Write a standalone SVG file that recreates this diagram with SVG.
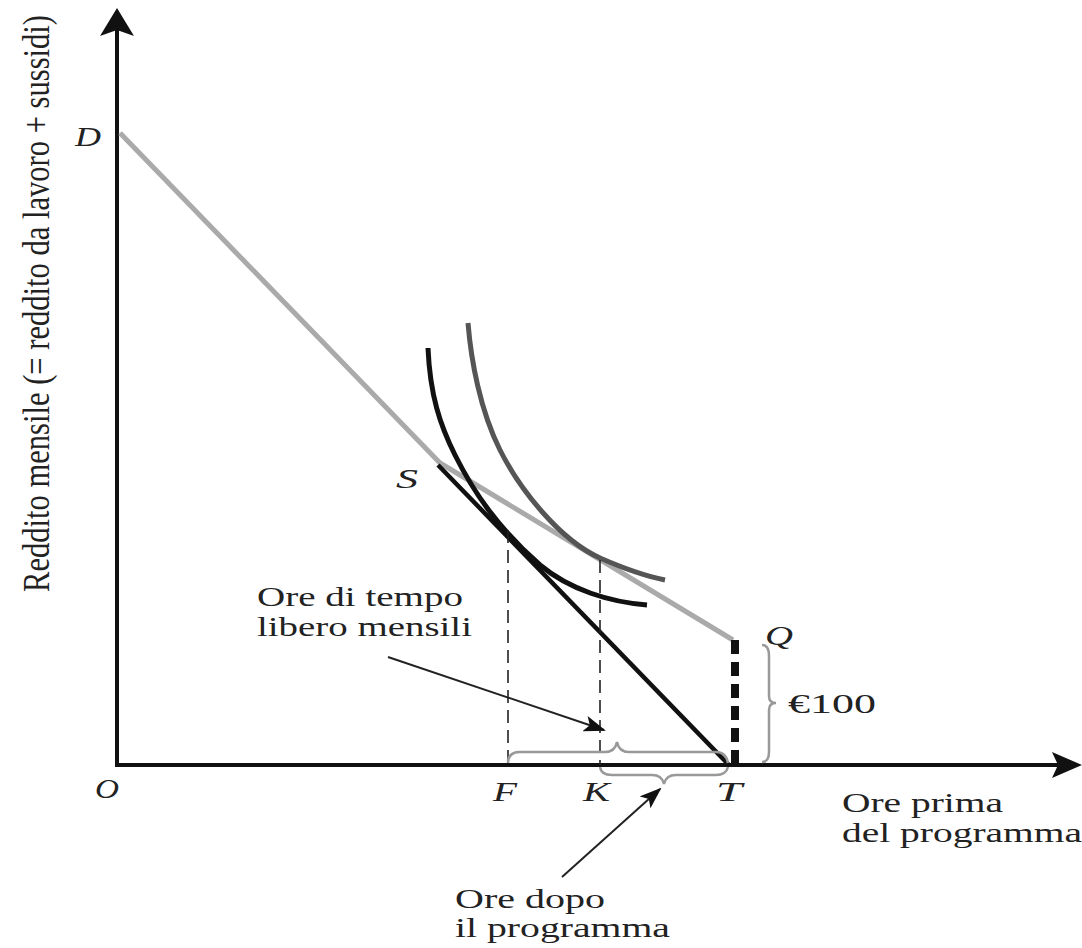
<svg xmlns="http://www.w3.org/2000/svg" width="1082" height="948" viewBox="0 0 1082 948">
<style>
.t{font-family:"Liberation Serif","Times New Roman",Times,Tinos,serif;font-size:28px;fill:#222}
.i{font-family:"Liberation Serif","Times New Roman",Times,Tinos,serif;font-size:28px;font-style:italic;fill:#222}
.ax{stroke:#111;stroke-width:4;fill:none}
.brace{stroke:#999;stroke-width:2.5;fill:none}
.dash{stroke:#222;stroke-width:1.6;stroke-dasharray:13 7;fill:none}
.ptr{stroke:#222;stroke-width:2;fill:none;marker-end:url(#ah)}
</style>
<defs>
<marker id="ah" markerWidth="22" markerHeight="16" refX="20" refY="8" orient="auto" markerUnits="userSpaceOnUse">
<path d="M0,0 L22,8 L0,16 L5,8 z" fill="#111"/>
</marker>
</defs>
<rect width="1082" height="948" fill="#fff"/>
<g id="axes">
<line class="ax" x1="117" y1="767" x2="117" y2="28"/>
<path d="M117,8 L134,36 L117,30 L100,36 z" fill="#111"/>
<line class="ax" x1="115" y1="765" x2="1058" y2="765"/>
<path d="M1082,765 L1052,752 L1058,765 L1052,778 z" fill="#111"/>
</g>
<g id="budget-lines">
<polyline points="120,133 440,463 733,640" fill="none" stroke="#aaa" stroke-width="5"/>
<line x1="438" y1="465" x2="729" y2="765" stroke="#111" stroke-width="4.5"/>
<line x1="735" y1="640" x2="735" y2="765" stroke="#111" stroke-width="8" stroke-dasharray="14 8"/>
</g>
<g id="indifference-curves">
<path d="M428,348 C430,395 440,425 455,455 C475,495 500,530 540,565 C570,590 610,602 647,605" fill="none" stroke="#111" stroke-width="5"/>
<path d="M468,323 C471,360 480,410 500,450 C520,490 560,540 600,558 C625,569 645,576 665,580" fill="none" stroke="#555" stroke-width="5"/>
</g>
<g id="guides">
<line class="dash" x1="508" y1="530" x2="508" y2="765"/>
<line class="dash" x1="600" y1="560" x2="600" y2="765"/>
</g>
<g id="braces">
<path class="brace" d="M508,763 Q508,752 520,752 L605,752 Q615,752 617,742 Q619,752 629,752 L716,752 Q726,752 728,763"/>
<path class="brace" d="M600,767 Q601,775 612,775 L652,775 Q662,775 664,784 Q666,775 676,775 L716,775 Q726,775 728,767"/>
<path class="brace" d="M762,645 Q769,645 769,656 L769,696 Q769,703 776,703 Q769,703 769,710 L769,752 Q769,762 762,762"/>
</g>
<g id="connectors">
<line class="ptr" x1="388" y1="657" x2="604" y2="730"/>
<line class="ptr" x1="562" y1="877" x2="660" y2="789"/>
</g>
<g id="labels">
<text class="i" x="75" y="146" textLength="26" lengthAdjust="spacingAndGlyphs">D</text>
<text class="i" x="396" y="488" textLength="22" lengthAdjust="spacingAndGlyphs">S</text>
<text class="i" x="765" y="645" textLength="28" lengthAdjust="spacingAndGlyphs">Q</text>
<text class="i" x="95" y="798" textLength="24" lengthAdjust="spacingAndGlyphs">O</text>
<text class="i" x="493" y="801" textLength="24" lengthAdjust="spacingAndGlyphs">F</text>
<text class="i" x="583" y="801" textLength="27" lengthAdjust="spacingAndGlyphs">K</text>
<text class="i" x="716" y="801" textLength="26" lengthAdjust="spacingAndGlyphs">T</text>
<text class="t" x="788" y="713" textLength="88" lengthAdjust="spacingAndGlyphs">€100</text>
<text class="t" x="257" y="606" textLength="206" lengthAdjust="spacingAndGlyphs">Ore di tempo</text>
<text class="t" x="257" y="636" textLength="215" lengthAdjust="spacingAndGlyphs">libero mensili</text>
<text class="t" x="842" y="812" textLength="161" lengthAdjust="spacingAndGlyphs">Ore prima</text>
<text class="t" x="842" y="842" textLength="240" lengthAdjust="spacingAndGlyphs">del programma</text>
<text class="t" x="455" y="908" textLength="150" lengthAdjust="spacingAndGlyphs">Ore dopo</text>
<text class="t" x="455" y="937" textLength="215" lengthAdjust="spacingAndGlyphs">il programma</text>
<text class="t" transform="translate(49,592) rotate(-90) scale(1,1.35)" x="0" y="0" textLength="577" lengthAdjust="spacingAndGlyphs">Reddito mensile (= reddito da lavoro + sussidi)</text>
</g>
</svg>
